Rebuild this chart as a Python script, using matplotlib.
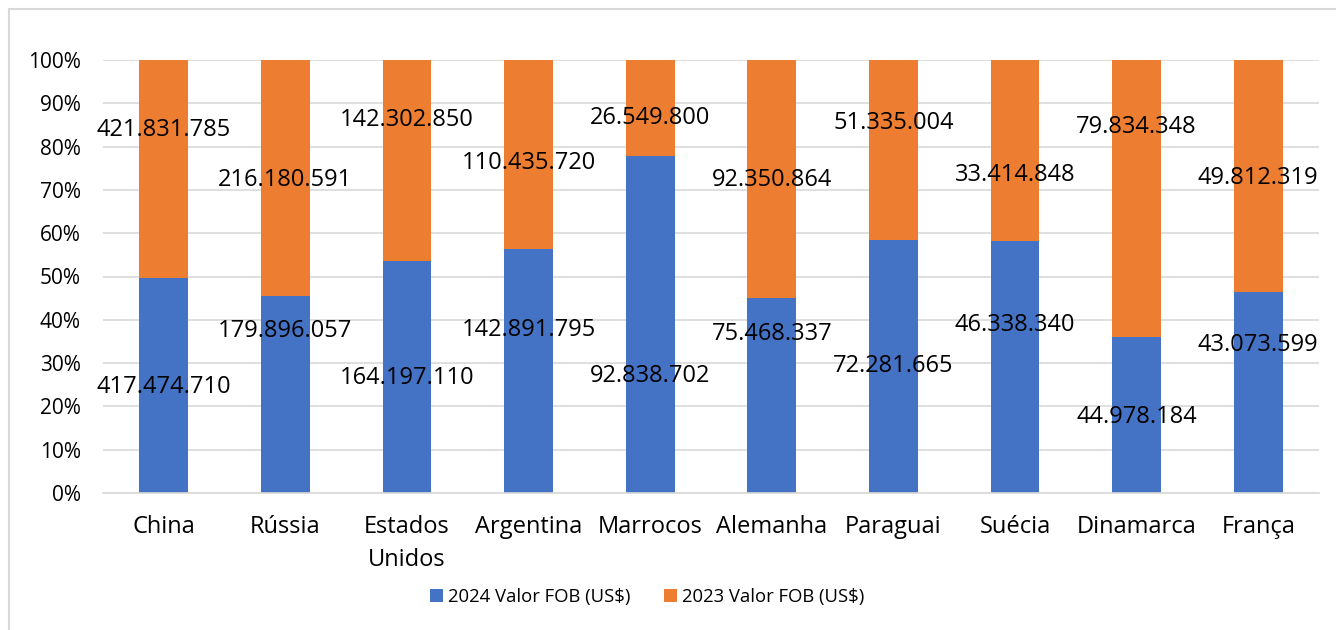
import matplotlib
matplotlib.use("Agg")
import matplotlib.pyplot as plt
from matplotlib.patches import Rectangle
from matplotlib.ticker import PercentFormatter

categories = ["China", "Rússia", "Estados\nUnidos", "Argentina", "Marrocos",
              "Alemanha", "Paraguai", "Suécia", "Dinamarca", "França"]
valor_2024 = [417474710, 179896057, 164197110, 142891795, 92838702,
              75468337, 72281665, 46338340, 44978184, 43073599]
valor_2023 = [421831785, 216180591, 142302850, 110435720, 26549800,
              92350864, 51335004, 33414848, 79834348, 49812319]
series_names = ["2024 Valor FOB (US$)", "2023 Valor FOB (US$)"]

# label vertical placement (share of the bar, as in the reference)
label_y_2024 = [24.4, 37.4, 26.6, 37.6, 27.0, 36.7, 29.3, 38.8, 17.6, 34.2]
label_y_2023 = [83.9, 72.4, 86.1, 76.2, 86.6, 72.3, 85.5, 73.4, 84.6, 72.8]

c24 = "#4472C4"
c23 = "#ED7D31"
grid_c = "#D9D9D9"
font = "Open Sans"

def fmt(v):
    return f"{v:,}".replace(",", ".")

fig = plt.figure(figsize=(13.36, 6.30), dpi=100)
ax = fig.add_axes([103/1336, 1-493/630, (1319-103)/1336, (493-60)/630])

x = list(range(len(categories)))
tot = [a + b for a, b in zip(valor_2024, valor_2023)]
p24 = [a / t * 100 for a, t in zip(valor_2024, tot)]
p23 = [b / t * 100 for b, t in zip(valor_2023, tot)]

ax.bar(x, p24, width=0.4, color=c24, label=series_names[0], zorder=2)
ax.bar(x, p23, width=0.4, bottom=p24, color=c23, label=series_names[1], zorder=2)

for i in x:
    ax.text(i, label_y_2024[i], fmt(valor_2024[i]), ha="center", va="center",
            fontsize=17, family=font, color="black", zorder=3)
    ax.text(i, label_y_2023[i], fmt(valor_2023[i]), ha="center", va="center",
            fontsize=17, family=font, color="black", zorder=3)

ax.set_xlim(-0.5, len(categories) - 0.5)
ax.set_ylim(0, 100)
ax.set_yticks(range(0, 101, 10))
ax.yaxis.set_major_formatter(PercentFormatter(decimals=0))
ax.grid(axis="y", color=grid_c, linewidth=1.2, zorder=0)
for s in ["top", "right", "left"]:
    ax.spines[s].set_visible(False)
ax.spines["bottom"].set_color(grid_c)
ax.spines["bottom"].set_linewidth(1.2)
ax.tick_params(axis="both", length=0)
ax.tick_params(axis="y", pad=16)
ax.tick_params(axis="x", pad=16)
ax.set_xticks(x)
ax.set_xticklabels(categories, fontsize=17, family=font, linespacing=1.5)
for lbl in ax.get_yticklabels():
    lbl.set_fontsize(15)
    lbl.set_family(font)

leg = fig.legend(loc="center", bbox_to_anchor=(647/1336, 1-597/630), ncol=2,
                 frameon=False, prop={"family": font, "size": 13.3},
                 handlelength=0.7, handleheight=0.7, handletextpad=0.3,
                 columnspacing=1.8)

fig.patches.append(Rectangle((9/1336, -0.2), 1.2, 1 - 9/630 + 0.2,
                             transform=fig.transFigure, fill=False,
                             edgecolor=grid_c, linewidth=1.5))

fig.savefig("out.png", dpi=100, facecolor="white")
